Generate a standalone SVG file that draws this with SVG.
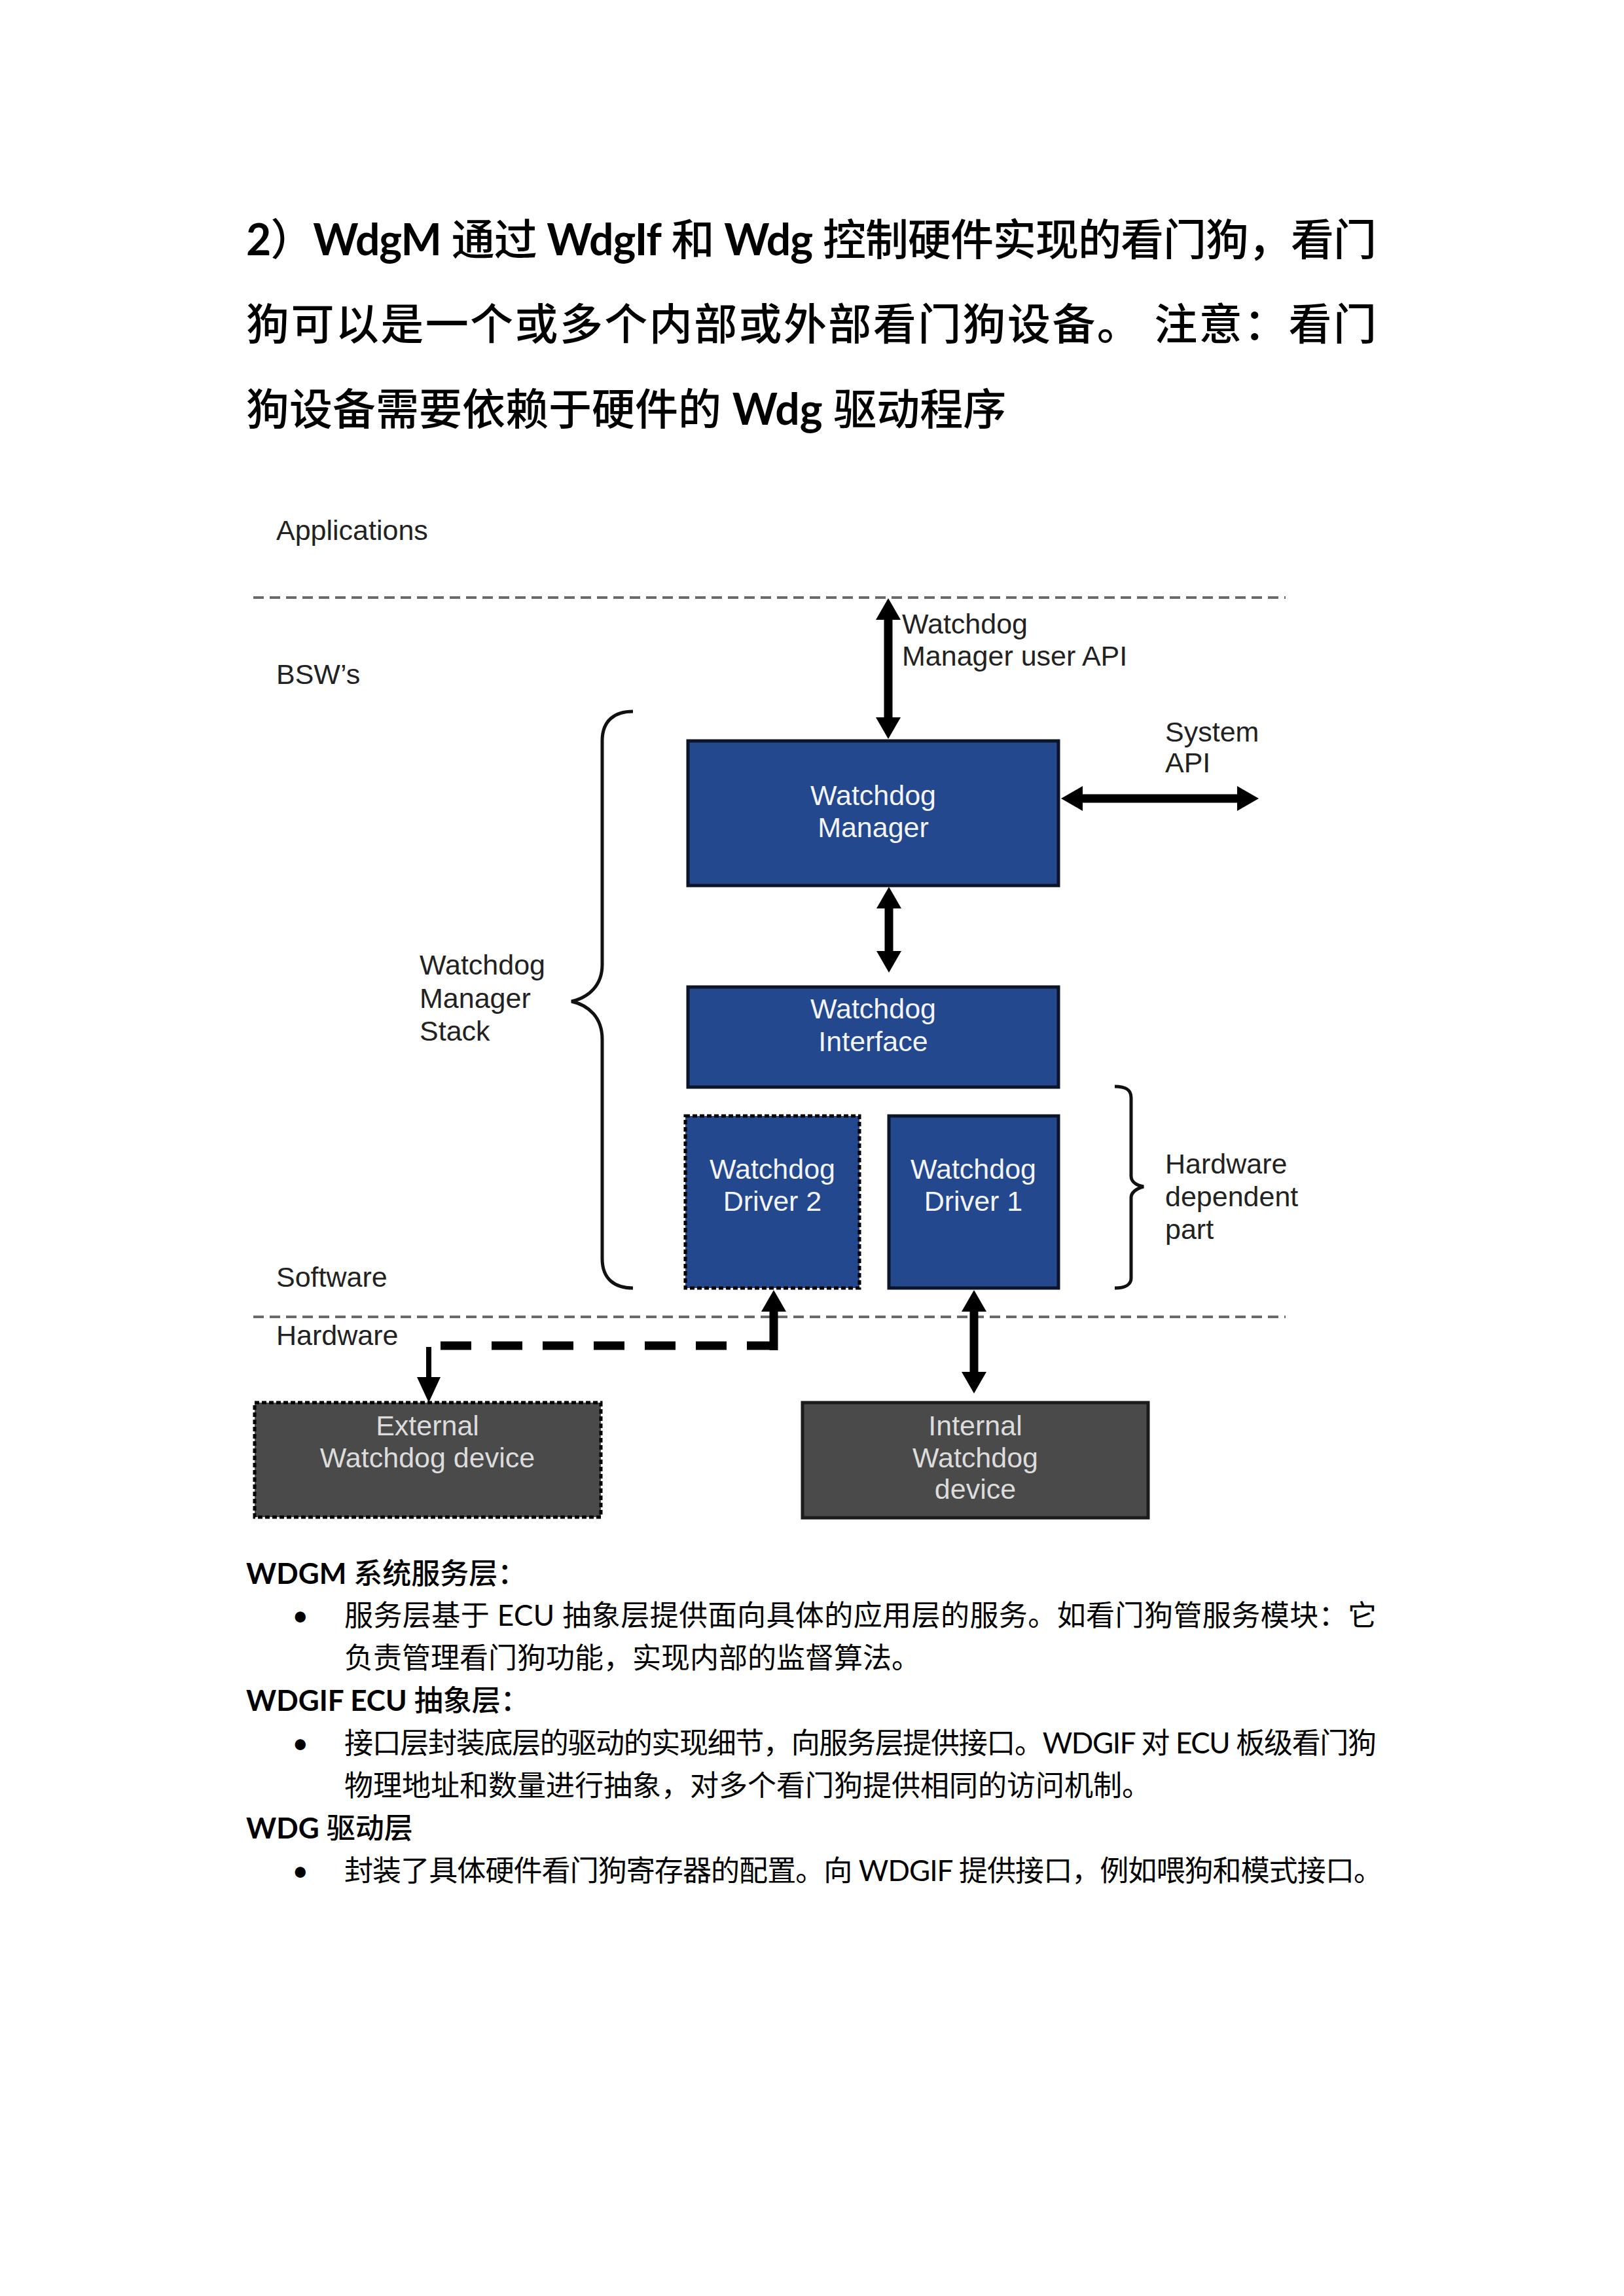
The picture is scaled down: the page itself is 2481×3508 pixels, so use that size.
<svg xmlns="http://www.w3.org/2000/svg" width="2481" height="3508" viewBox="0 0 2481 3508">
<style>
.doc{font-family:Lato,"Noto Sans CJK SC",sans-serif;fill:#000}
.h1{font-size:66px;font-weight:500}
.sh{font-size:44px;font-weight:500}
.b{font-weight:700}
.bd{font-size:44px;font-weight:400}
.lbl{font-family:"Liberation Sans",Arial,sans-serif;font-size:43px;fill:#222}
.wt{font-family:"Liberation Sans",Arial,sans-serif;font-size:43px;fill:#f2f4f8;text-anchor:middle}
.gt{font-family:"Liberation Sans",Arial,sans-serif;font-size:43px;fill:#dcdcdc;text-anchor:middle}
.blue{fill:#23488e;stroke:#0c1428;stroke-width:5}
.blued{fill:#23488e;stroke:#000;stroke-width:5;stroke-dasharray:7 4}
.gray{fill:#4a4a4a;stroke:#1c1c1c;stroke-width:5}
.grayd{fill:#4a4a4a;stroke:#000;stroke-width:5;stroke-dasharray:7 4}
.div{stroke:#6a6a6a;stroke-width:4;stroke-dasharray:16 9;fill:none}
.sh13{stroke:#000;stroke-width:13;fill:none}
.brace{stroke:#111;stroke-width:5;fill:none}
</style>
<defs>
<marker id="ah" markerUnits="userSpaceOnUse" markerWidth="34" markerHeight="40" refX="1" refY="19" orient="auto-start-reverse" viewBox="0 0 34 38">
<path d="M0,0 L33,19 L0,38 Z" fill="#000"/>
</marker>
</defs>
<rect width="2481" height="3508" fill="#fff"/>

<g id="heading" class="doc h1">
<text x="376" y="390" textLength="1727" lengthAdjust="spacing"><tspan class="b">2</tspan>）<tspan class="b">WdgM</tspan> 通过 <tspan class="b">WdgIf</tspan> 和 <tspan class="b">Wdg</tspan> 控制硬件实现的看门狗，看门</text>
<text x="376" y="519" textLength="1727" lengthAdjust="spacing">狗可以是一个或多个内部或外部看门狗设备。 注意：看门</text>
<text x="376" y="649">狗设备需要依赖于硬件的 <tspan class="b">Wdg</tspan> 驱动程序</text>
</g>

<g id="dividers">
<line class="div" x1="387" y1="913" x2="1964" y2="913"/>
<line class="div" x1="387" y1="2012" x2="1964" y2="2012"/>
</g>

<g id="layer-labels" class="lbl">
<text x="422" y="825">Applications</text>
<text x="422" y="1045">BSW’s</text>
<text x="422" y="1966">Software</text>
<text x="422" y="2055">Hardware</text>
</g>

<g id="api-labels" class="lbl">
<text x="1378" y="968">Watchdog</text>
<text x="1378" y="1017">Manager user API</text>
<text x="1780" y="1133">System</text>
<text x="1780" y="1180">API</text>
</g>

<g id="stack-brace">
<path class="brace" d="M967,1087 C940,1087 920,1100 920,1132 L920,1474 C920,1505 900,1524 873,1530 C900,1536 920,1555 920,1588 L920,1923 C920,1955 940,1968 967,1968"/>
<text class="lbl" x="641" y="1489">Watchdog</text>
<text class="lbl" x="641" y="1540">Manager</text>
<text class="lbl" x="641" y="1590">Stack</text>
</g>

<g id="hw-brace">
<path class="brace" d="M1703,1660 C1720,1660 1728,1665 1728,1677 L1728,1797 C1728,1806 1737,1811 1747,1813 C1737,1816 1728,1821 1728,1830 L1728,1953 C1728,1962 1720,1968 1703,1968"/>
<text class="lbl" x="1780" y="1793">Hardware</text>
<text class="lbl" x="1780" y="1843">dependent</text>
<text class="lbl" x="1780" y="1893">part</text>
</g>

<g id="watchdog-manager">
<rect class="blue" x="1051" y="1132" width="566" height="221"/>
<text class="wt" x="1334" y="1230">Watchdog</text>
<text class="wt" x="1334" y="1279">Manager</text>
</g>

<g id="watchdog-interface">
<rect class="blue" x="1051" y="1508" width="566" height="153"/>
<text class="wt" x="1334" y="1556">Watchdog</text>
<text class="wt" x="1334" y="1606">Interface</text>
</g>

<g id="watchdog-driver-2">
<rect class="blued" x="1047" y="1705" width="266" height="263"/>
<text class="wt" x="1180" y="1801">Watchdog</text>
<text class="wt" x="1180" y="1850">Driver 2</text>
</g>

<g id="watchdog-driver-1">
<rect class="blue" x="1358" y="1705" width="259" height="263"/>
<text class="wt" x="1487" y="1801">Watchdog</text>
<text class="wt" x="1487" y="1850">Driver 1</text>
</g>

<g id="external-watchdog-device">
<rect class="grayd" x="389" y="2143" width="529" height="175"/>
<text class="gt" x="653" y="2193">External</text>
<text class="gt" x="653" y="2242">Watchdog device</text>
</g>

<g id="internal-watchdog-device">
<rect class="gray" x="1226" y="2143" width="528" height="176"/>
<text class="gt" x="1490" y="2193">Internal</text>
<text class="gt" x="1490" y="2242">Watchdog</text>
<text class="gt" x="1490" y="2290">device</text>
</g>

<g id="connectors">
<line class="sh13" x1="1357" y1="946" x2="1357" y2="1097" marker-start="url(#ah)" marker-end="url(#ah)"/>
<line class="sh13" x1="1653" y1="1220" x2="1891" y2="1220" marker-start="url(#ah)" marker-end="url(#ah)"/>
<line class="sh13" x1="1358" y1="1387" x2="1358" y2="1454" marker-start="url(#ah)" marker-end="url(#ah)"/>
<line class="sh13" x1="1488" y1="2003" x2="1488" y2="2097" marker-start="url(#ah)" marker-end="url(#ah)"/>
<line class="sh13" x1="1182" y1="2063" x2="1182" y2="2003" marker-end="url(#ah)"/>
<line x1="1188" y1="2056" x2="665" y2="2056" stroke="#000" stroke-width="13" stroke-dasharray="47 31"/>
<line x1="655" y1="2058" x2="655" y2="2104" stroke="#000" stroke-width="8"/>
<polygon points="637,2104 673,2104 655,2143" fill="#000"/>
</g>

<g id="notes" class="doc">
<text class="sh" x="376" y="2420"><tspan class="b">WDGM</tspan> 系统服务层：</text>
<text class="bd" x="446" y="2484">•</text>
<text class="bd" x="526" y="2484" textLength="1577" lengthAdjust="spacing">服务层基于  ECU  抽象层提供面向具体的应用层的服务。如看门狗管服务模块：它</text>
<text class="bd" x="526" y="2549">负责管理看门狗功能，实现内部的监督算法。</text>
<text class="sh" x="376" y="2614"><tspan class="b">WDGIF ECU</tspan> 抽象层：</text>
<text class="bd" x="446" y="2679">•</text>
<text class="bd" x="526" y="2679" textLength="1577" lengthAdjust="spacing">接口层封装底层的驱动的实现细节，向服务层提供接口。WDGIF  对 ECU 板级看门狗</text>
<text class="bd" x="526" y="2744">物理地址和数量进行抽象，对多个看门狗提供相同的访问机制。</text>
<text class="sh" x="376" y="2809"><tspan class="b">WDG</tspan> 驱动层</text>
<text class="bd" x="446" y="2874">•</text>
<text class="bd" x="526" y="2874" textLength="1586" lengthAdjust="spacing">封装了具体硬件看门狗寄存器的配置。向 WDGIF 提供接口，例如喂狗和模式接口。</text>
</g>
</svg>
